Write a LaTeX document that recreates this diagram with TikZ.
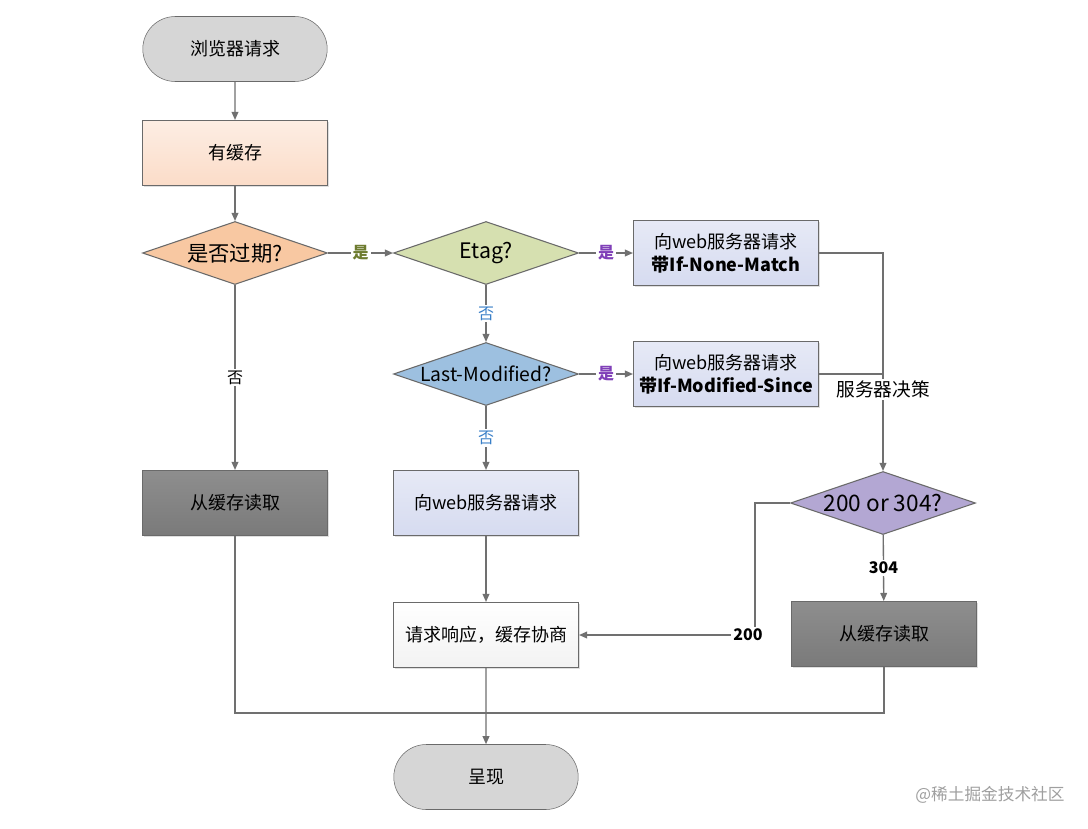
\documentclass[tikz,border=0pt]{standalone}
\usepackage{fontspec}
\setmainfont{Noto Sans CJK SC}
\usetikzlibrary{shapes.geometric,shapes.misc,arrows.meta,shadows}

\definecolor{lineg}{HTML}{707070}
\definecolor{edgeg}{HTML}{6A6A6A}
\definecolor{termg}{HTML}{D6D6D6}
\definecolor{peach}{HTML}{FBDCC8}
\definecolor{orangd}{HTML}{F8C8A2}
\definecolor{greend}{HTML}{D6E0B0}
\definecolor{blued}{HTML}{9DC0E0}
\definecolor{lavbox}{HTML}{D6DBF0}
\definecolor{purpd}{HTML}{B3A7D3}
\definecolor{darkbox}{HTML}{7A7A7A}
\definecolor{yesgreen}{HTML}{6E7C30}
\definecolor{yespurp}{HTML}{8040B8}
\definecolor{noblue}{HTML}{3A80C8}

\begin{document}
\begin{tikzpicture}[x=0.75pt,y=-0.75pt,
  line/.style={draw=lineg, line width=1pt},
  arr/.style={line, -{Triangle[length=6pt,width=5pt]}},
  term/.style={rounded rectangle, draw=edgeg, fill=termg,
    minimum width=145pt, minimum height=48.75pt,
    font=\fontsize{13.5}{16}\selectfont},
  box/.style={rectangle, draw=edgeg, line width=0.8pt, align=center,
    minimum width=138.75pt, minimum height=48.75pt,
    drop shadow={shadow xshift=1pt, shadow yshift=-1pt, opacity=0.25},
    font=\fontsize{13.5}{17}\selectfont},
  dec/.style={diamond, draw=edgeg, line width=0.8pt, aspect=3, inner sep=0pt,
    minimum width=138.75pt, minimum height=47.25pt},
  lab/.style={fill=white, inner sep=1.5pt, font=\fontsize{12}{14}\selectfont}
]

\fill[white] (0,0) rectangle (1088,828);
\useasboundingbox (0,0) rectangle (1088,828);

% left column
\node[term] (browser) at (235,49) {浏览器请求};
\node[box, top color=peach!50, bottom color=peach] (cache) at (235,153) {有缓存};
\node[dec, fill=orangd, font=\fontsize{16}{18}\selectfont] (expired) at (235,253) {是否过期?};
\node[box, top color=darkbox!85, bottom color=darkbox] (readl) at (235,503) {从缓存读取};

% middle column
\node[dec, fill=greend, font=\fontsize{16}{18}\selectfont] (etag) at (486,253) {Etag?};
\node[dec, fill=blued, font=\fontsize{14.5}{16}\selectfont] (lastmod) at (486,374) {\makebox[0pt]{Last-Modified?}};
\node[box, top color=lavbox!60, bottom color=lavbox] (req) at (486,503) {向web服务器请求};
\node[box, top color=white, bottom color=gray!10] (resp) at (486,635) {请求响应，缓存协商};
\node[term] (show) at (486,777) {呈现};

% right column
\node[box, top color=lavbox!60, bottom color=lavbox] (reqetag) at (726,253)
  {向web服务器请求\\\textbf{带If-None-Match}};
\node[box, top color=lavbox!60, bottom color=lavbox] (reqlm) at (726,374)
  {向web服务器请求\\\textbf{带If-Modified-Since}};
\node[dec, fill=purpd, font=\fontsize{17}{19}\selectfont] (status) at (883,503) {\makebox[0pt]{200 or 304?}};
\node[box, top color=darkbox!85, bottom color=darkbox] (readr) at (884,634) {从缓存读取};

\coordinate (merge) at (486,713);

% connectors
\draw[arr] (browser) -- (cache);
\draw[arr] (cache) -- (expired);
\draw[arr] (expired) -- node[lab, text=yesgreen, font=\bfseries\fontsize{12}{14}\selectfont] {是} (etag);
\draw[arr] (expired) -- node[lab] {否} (readl);
\draw[arr] (etag) -- node[lab, text=yespurp, font=\bfseries\fontsize{12}{14}\selectfont] {是} (reqetag);
\draw[arr] (etag) -- node[lab, text=noblue] {否} (lastmod);
\draw[arr] (lastmod) -- node[lab, text=yespurp, font=\bfseries\fontsize{12}{14}\selectfont] {是} (reqlm);
\draw[arr] (lastmod) -- node[lab, text=noblue] {否} (req);
\draw[arr] (req) -- (resp);
\draw[arr] (reqetag.east) -| node[lab, pos=0.813, font=\fontsize{14}{16}\selectfont] {服务器决策} (status.north);
\draw[line] (reqlm.east) -- (reqlm.east -| status.north);
\draw[arr] (status) -- node[lab, font=\bfseries\fontsize{12}{14}\selectfont] {304} (readr);
\draw[arr] (status.west) -- ++(-35,0) |- node[lab, pos=0.52, font=\bfseries\fontsize{12}{14}\selectfont] {200} (resp.east);
\draw[line] (readl) |- (merge);
\draw[line] (readr) |- (merge);
\draw[arr] (resp) -- (show);

\node[text=gray!75, font=\fontsize{12.5}{14}\selectfont] (mark) at (990,795) {@稀土掘金技术社区};

\end{tikzpicture}
\end{document}
